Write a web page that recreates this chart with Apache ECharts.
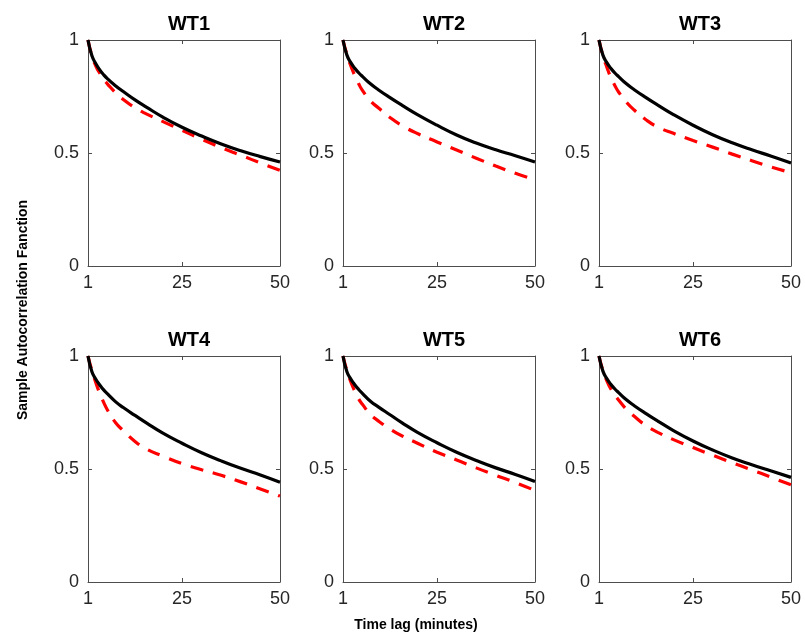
<!DOCTYPE html>
<html>
<head>
<meta charset="utf-8">
<script src="https://cdn.jsdelivr.net/npm/echarts@6/dist/echarts.min.js"></script>
<style>html,body{margin:0;padding:0;background:#fff;}#c{width:805px;height:635px;}</style>
</head>
<body>
<div id="c"></div>
<script>
// Lags (minutes)
const lags = [1,2,3,4,5,6,8,10,13,16,20,25,30,35,40,45,50];
const panelTitles = ['WT1','WT2','WT3','WT4','WT5','WT6'];
const xTicks = [1,25,50];
const yTicks = [0,0.5,1];

// Black solid curves
const blackWT1 = [1,0.93,0.895,0.868,0.846,0.828,0.798,0.772,0.735,0.702,0.66,0.614,0.575,0.54,0.51,0.484,0.46];
const blackWT2 = [1,0.933,0.90,0.875,0.855,0.838,0.806,0.78,0.745,0.712,0.67,0.623,0.58,0.544,0.514,0.488,0.46];
const blackWT3 = [1,0.933,0.90,0.875,0.855,0.838,0.806,0.78,0.745,0.712,0.67,0.623,0.581,0.545,0.514,0.486,0.456];
const blackWT4 = [1,0.93,0.897,0.872,0.85,0.832,0.798,0.772,0.737,0.703,0.66,0.614,0.572,0.536,0.503,0.473,0.441];
const blackWT5 = [1,0.93,0.898,0.873,0.852,0.834,0.80,0.775,0.74,0.705,0.662,0.616,0.574,0.538,0.505,0.476,0.445];
const blackWT6 = [1,0.933,0.90,0.875,0.855,0.838,0.806,0.78,0.745,0.712,0.67,0.624,0.584,0.549,0.519,0.491,0.463];

// Red dashed curves
const redWT1 = [1,0.93,0.885,0.853,0.826,0.805,0.767,0.737,0.70,0.672,0.64,0.60,0.561,0.524,0.49,0.456,0.423];
const redWT2 = [1,0.935,0.885,0.843,0.806,0.776,0.731,0.70,0.657,0.622,0.586,0.549,0.513,0.477,0.442,0.41,0.382];
const redWT3 = [1,0.93,0.88,0.835,0.80,0.77,0.725,0.69,0.647,0.615,0.587,0.555,0.526,0.495,0.466,0.438,0.413];
const redWT4 = [1,0.935,0.882,0.835,0.795,0.76,0.706,0.67,0.622,0.588,0.558,0.524,0.497,0.472,0.443,0.412,0.38];
const redWT5 = [1,0.935,0.885,0.845,0.81,0.785,0.742,0.713,0.677,0.647,0.614,0.574,0.54,0.505,0.472,0.44,0.405];
const redWT6 = [1,0.935,0.89,0.855,0.828,0.805,0.764,0.733,0.692,0.662,0.63,0.595,0.561,0.528,0.496,0.463,0.43];

const blacks = [blackWT1,blackWT2,blackWT3,blackWT4,blackWT5,blackWT6];
const reds = [redWT1,redWT2,redWT3,redWT4,redWT5,redWT6];

const xLabel = 'Time lag (minutes)';
const yLabel = 'Sample Autocorrelation Fanction';

const FONT = '"Liberation Sans", Arial, Helvetica, sans-serif';
const AX = '#4d4d4d';
const TXT = '#262626';
const colLeft = [88, 343, 599];
const rowTop = [40, 356];
const W = 192, H = 226;

const grids = [], xAxes = [], yAxes = [], series = [], titles = [];
for (let i = 0; i < 6; i++) {
  const r = Math.floor(i / 3), c = i % 3;
  grids.push({left: colLeft[c], top: rowTop[r], width: W, height: H, containLabel: false});
  titles.push({
    text: panelTitles[i], left: colLeft[c] + W / 2, top: rowTop[r] - 31, textAlign: 'center',
    textStyle: {fontFamily: FONT, fontSize: 20, fontWeight: 'bold', color: '#000'}
  });
  const baseX = {
    type: 'value', gridIndex: i, min: 1, max: 50,
    axisLine: {show: true, onZero: false, lineStyle: {color: AX, width: 1}},
    axisTick: {show: true, inside: true, length: 4, customValues: xTicks, lineStyle: {color: AX}},
    splitLine: {show: false}
  };
  xAxes.push(Object.assign({}, baseX, {
    position: 'bottom',
    axisLabel: {show: true, customValues: xTicks, margin: 8, fontFamily: FONT, fontSize: 18, color: TXT}
  }));
  xAxes.push(Object.assign({}, baseX, {position: 'top', axisLabel: {show: false}}));
  const baseY = {
    type: 'value', gridIndex: i, min: 0, max: 1, interval: 0.5,
    axisLine: {show: true, onZero: false, lineStyle: {color: AX, width: 1}},
    axisTick: {show: true, inside: true, length: 4, lineStyle: {color: AX}},
    splitLine: {show: false}
  };
  yAxes.push(Object.assign({}, baseY, {
    position: 'left',
    axisLabel: {show: true, margin: 9, fontFamily: FONT, fontSize: 18, color: TXT,
      formatter: v => (v === 0 ? '0' : v === 1 ? '1' : String(v))}
  }));
  yAxes.push(Object.assign({}, baseY, {position: 'right', axisLabel: {show: false}}));

  series.push({
    type: 'line', xAxisIndex: 2 * i, yAxisIndex: 2 * i,
    data: lags.map((l, k) => [l, blacks[i][k]]),
    smooth: 0.5, showSymbol: false, symbol: 'none',
    lineStyle: {color: '#000', width: 3.2}, z: 3, silent: true
  });
  series.push({
    type: 'line', xAxisIndex: 2 * i, yAxisIndex: 2 * i,
    data: lags.map((l, k) => [l, reds[i][k]]),
    smooth: 0.5, showSymbol: false, symbol: 'none',
    lineStyle: {color: '#ff0000', width: 3.2, type: [13, 10]}, z: 2, silent: true
  });
}

const chart = echarts.init(document.getElementById('c'), null, {renderer: 'canvas'});
chart.setOption({
  backgroundColor: '#fff',
  animation: false,
  title: titles,
  grid: grids,
  xAxis: xAxes,
  yAxis: yAxes,
  series: series,
  graphic: [
    {type: 'text', x: 416, y: 625, style: {text: xLabel, fontFamily: FONT, fontSize: 14, fontWeight: 'bold', fill: '#000', align: 'center', verticalAlign: 'middle'}},
    {type: 'text', x: 23, y: 310, rotation: Math.PI / 2, style: {text: yLabel, fontFamily: FONT, fontSize: 14, fontWeight: 'bold', fill: '#000', align: 'center', verticalAlign: 'middle'}}
  ]
});
</script>
</body>
</html>
